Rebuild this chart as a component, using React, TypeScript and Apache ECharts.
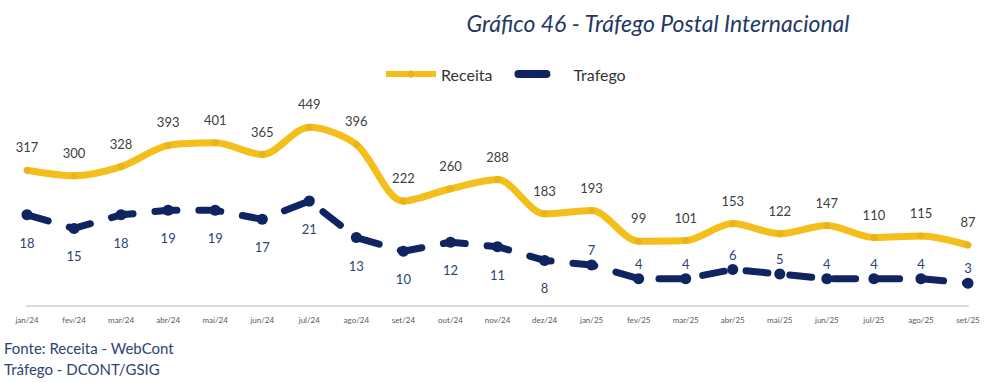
import React, { useEffect, useRef } from "react";
import * as echarts from "echarts";

const months = ["jan/24","fev/24","mar/24","abr/24","mai/24","jun/24","jul/24","ago/24","set/24","out/24","nov/24","dez/24","jan/25","fev/25","mar/25","abr/25","mai/25","jun/25","jul/25","ago/25","set/25"];
const receita = [317,300,328,393,401,365,449,396,222,260,288,183,193,99,101,153,122,147,110,115,87];
const trafego = [18,15,18,19,19,17,21,13,10,12,11,8,7,4,4,6,5,4,4,4,3];
const trafegoLabelBelowUntil = 11;

export default function App() {
  const ref = useRef<HTMLDivElement>(null);
  useEffect(() => {
    const chart = echarts.init(ref.current!, null, { renderer: "svg" });
    const navy = "#102462";
    const yellow = "#F4BE1B";
    chart.setOption({
      animation: false,
      backgroundColor: "#ffffff",
      title: {
        text: "Gráfico 46 - Tráfego Postal Internacional",
        left: 653,
        textAlign: "center",
        top: 6,
        textStyle: { fontFamily: "Lato", fontStyle: "italic", fontWeight: "normal", fontSize: 23, color: "#1F3864" },
      },
      legend: {
        top: 61,
        left: 378,
        itemWidth: 50,
        itemHeight: 9,
        itemGap: 22,
        textStyle: { fontFamily: "Lato", fontSize: 16, color: "#333333" },
        data: [
          { name: "Receita", lineStyle: { width: 6 } },
          { name: "Trafego", lineStyle: { type: [28, 40], width: 8 } },
        ],
      },
      graphic: [
        { type: "text", left: 4, top: 340, style: { text: "Fonte: Receita - WebCont", font: "15px Lato", fill: "#2F4275" } },
        { type: "text", left: 4, top: 361, style: { text: "Tráfego - DCONT/GSIG", font: "15px Lato", fill: "#2F4275" } },
      ],
      grid: { left: 27, right: 16, top: 78, bottom: 76 },
      xAxis: {
        type: "category",
        data: months,
        boundaryGap: false,
        axisLine: { onZero: false, lineStyle: { color: "#D9D9D9", width: 2 } },
        axisTick: { show: false },
        axisLabel: { fontSize: 8, color: "#595959", margin: 10, fontFamily: "Lato", interval: 0 },
      },
      yAxis: [
        { type: "value", min: -100, max: 600, show: false, splitLine: { show: false } },
        { type: "value", min: -2, max: 48, show: false, splitLine: { show: false } },
      ],
      series: [
        {
          name: "Receita",
          type: "line",
          yAxisIndex: 0,
          data: receita,
          smooth: 0.3,
          symbol: "circle",
          symbolSize: 7,
          itemStyle: { color: "#E9B417" },
          lineStyle: { color: yellow, width: 7 },
          label: { show: true, position: "top", distance: 13, fontSize: 13, color: "#404040", fontFamily: "Lato" },
        },
        {
          name: "Trafego",
          type: "line",
          yAxisIndex: 1,
          data: trafego.map((v, i) => ({
            value: v,
            label: { position: i <= trafegoLabelBelowUntil ? "bottom" : "top", distance: i <= trafegoLabelBelowUntil ? 16 : 3 },
          })),
          symbol: "circle",
          symbolSize: 11,
          itemStyle: { color: navy },
          lineStyle: { color: navy, width: 7, type: [22, 22], cap: "round" },
          label: { show: true, fontSize: 13, color: "#2E4374", fontFamily: "Lato" },
        },
      ],
    });
    return () => chart.dispose();
  }, []);
  return <div ref={ref} style={{ position: "absolute", left: 0, top: 0, width: 984, height: 382 }} />;
}
